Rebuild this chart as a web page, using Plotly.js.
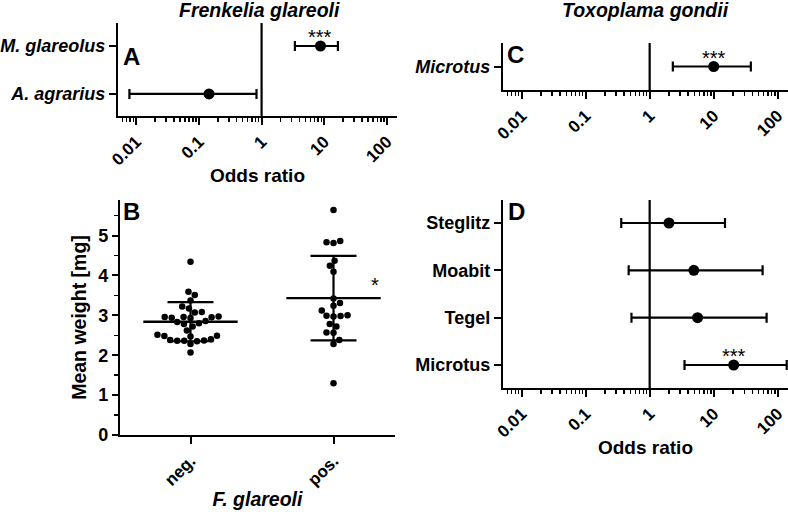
<!DOCTYPE html>
<html>
<head>
<meta charset="utf-8">
<script src="https://cdn.plot.ly/plotly-3.0.1.min.js"></script>
<style>html,body{margin:0;padding:0;background:#fff}#chart{width:788px;height:512px}</style>
</head>
<body>
<div id="chart"></div>
<script>
// ---------- Data ----------
// Panel A: Frenkelia glareoli odds ratios (index 0 = bottom row)
const aCategories = ['A. agrarius', 'M. glareolus'];
const aOR   = [0.145, 8.7];
const aLow  = [0.0078, 3.4];
const aHigh = [0.83, 16.5];
const aStars = ['', '***'];

// Panel C: Toxoplama gondii odds ratio
const cCategories = ['Microtus'];
const cOR   = [10.0];
const cLow  = [2.3];
const cHigh = [38];
const cStars = ['***'];

// Panel D: Toxoplama gondii odds ratios by site (index 0 = bottom row)
const dCategories = ['Microtus', 'Tegel', 'Moabit', 'Steglitz'];
const dOR   = [20.5, 5.6, 4.9, 2.0];
const dLow  = [3.5, 0.52, 0.47, 0.36];
const dHigh = [138, 67, 58, 15];
const dStars = ['***', '', '', ''];

// Panel B: mean weight [mg] by F. glareoli status
const bGroups = ['neg.', 'pos.'];
const bNeg = [4.34, 3.59, 3.51, 3.37, 3.22, 3.17, 3.08, 3.07, 2.97, 2.96, 2.96, 2.95, 2.94, 2.93,
              2.86, 2.83, 2.80, 2.78, 2.72, 2.62, 2.51, 2.49, 2.48, 2.47, 2.40, 2.38, 2.37, 2.36,
              2.36, 2.35, 2.28, 2.07];
const bPos = [5.64, 4.86, 4.83, 4.81, 4.37, 4.24, 4.09, 3.42, 3.31, 3.24, 3.12, 3.00, 2.99, 2.98,
              2.97, 2.78, 2.72, 2.57, 2.56, 2.38, 2.28, 1.30];
const bMean = [2.84, 3.43];
const bSD   = [0.49, 1.06];
const bStar = ['', '*'];

const oddsTickVals = [0.01, 0.1, 1, 10, 100];
const oddsTickText = ['0.01', '0.1', '1', '10', '100'];
const refOR = 1;

// ---------- Helpers ----------
const W = 788, H = 512;
const FONT = 'Liberation Sans, Arial, sans-serif';
const px = v => v / W;
const py = v => 1 - v / H;
const idx = arr => arr.map((_, i) => i);

const minorVals = [];
for (let e = -3; e <= 2; e++) for (let d = 2; d <= 9; d++) minorVals.push(d * Math.pow(10, e));

function swarm(values, pxPerX, pxPerY, diam) {
  const order = idx(values).sort((a, b) => values[a] - values[b]);
  const placed = [];
  const offs = new Array(values.length).fill(0);
  let flip = 1;
  for (const i of order) {
    const y = values[i] * pxPerY;
    const iv = [];
    for (const p of placed) {
      const dy = Math.abs(p.y - y);
      if (dy < diam) { const dx = Math.sqrt(diam * diam - dy * dy); iv.push([p.x - dx, p.x + dx]); }
    }
    const cands = [0];
    iv.forEach(([a, b]) => { cands.push(a - 1e-6, b + 1e-6); });
    cands.sort((a, b) => (Math.abs(a) - Math.abs(b)) || (flip * (b - a)));
    let best = 0;
    for (const c of cands) { if (iv.every(([a, b]) => c <= a || c >= b)) { best = c; break; } }
    if (best !== 0) flip = -flip;
    placed.push({ x: best, y });
    offs[i] = best / pxPerX;
  }
  return offs;
}

function forestTrace(xa, ya, or, lo, hi) {
  return {
    type: 'scatter', mode: 'markers', xaxis: xa, yaxis: ya,
    x: or, y: idx(or),
    marker: { size: 11, color: 'black' },
    error_x: { type: 'data', symmetric: false,
      array: hi.map((h, i) => h - or[i]), arrayminus: lo.map((l, i) => or[i] - l),
      color: 'black', thickness: 2.2, width: 5 },
    hoverinfo: 'skip'
  };
}
function refLine(xa, ya, n) {
  return { type: 'scatter', mode: 'lines', xaxis: xa, yaxis: ya,
    x: [refOR, refOR], y: [-5, n + 5], line: { color: 'black', width: 2.2 }, hoverinfo: 'skip' };
}

// ---------- Traces ----------
const traces = [];
traces.push(refLine('x', 'y', aCategories.length));
traces.push(forestTrace('x', 'y', aOR, aLow, aHigh));
traces.push(refLine('x3', 'y3', cCategories.length));
traces.push(forestTrace('x3', 'y3', cOR, cLow, cHigh));
traces.push(refLine('x4', 'y4', dCategories.length));
traces.push(forestTrace('x4', 'y4', dOR, dLow, dHigh));

// Panel B dots (beeswarm offsets derived from the values)
const bPxX = 142, bPxY = 39.9;
[bNeg, bPos].forEach((vals, g) => {
  const off = swarm(vals, bPxX, bPxY, 7);
  traces.push({ type: 'scatter', mode: 'markers', xaxis: 'x2', yaxis: 'y2',
    x: vals.map((v, i) => g + off[i]), y: vals,
    marker: { size: 6.5, color: 'black' }, hoverinfo: 'skip', cliponaxis: false });
});
traces.push({ type: 'scatter', mode: 'markers', xaxis: 'x2', yaxis: 'y2',
  x: idx(bGroups), y: bMean,
  marker: { size: 1, color: 'rgba(0,0,0,0)' },
  error_y: { type: 'data', array: bSD, color: 'black', thickness: 2.2, width: 23 },
  error_x: { type: 'data', array: bGroups.map(() => 0.33), color: 'black', thickness: 2.4, width: 0 },
  hoverinfo: 'skip', cliponaxis: false });

// ---------- Layout ----------
const baseAxis = {
  showline: true, linecolor: 'black', linewidth: 2.2, mirror: false,
  ticks: 'outside', tickcolor: 'black', tickwidth: 2, ticklen: 7,
  showgrid: false, zeroline: false, fixedrange: true,
  tickfont: { family: FONT, size: 17, color: 'black', weight: 'bold' }
};
function logX(domain, yAnchor, title) {
  return Object.assign({}, baseAxis, {
    domain, anchor: yAnchor, type: 'log', range: [-2.29, 2.16],
    tickmode: 'array', tickvals: oddsTickVals, ticktext: oddsTickText, tickangle: -45,
    minor: { tickmode: 'array', tickvals: minorVals, ticks: 'outside', ticklen: 4,
             tickwidth: 1.5, tickcolor: 'black', showgrid: false },
    title: title ? { text: title, font: { family: FONT, size: 19, color: 'black', weight: 'bold' }, standoff: 0 } : { text: '' }
  });
}
function catY(domain, xAnchor, cats, range, italic) {
  return Object.assign({}, baseAxis, {
    domain, anchor: xAnchor, range,
    tickmode: 'array', tickvals: idx(cats), ticktext: cats,
    tickfont: { family: FONT, size: 18, color: 'black', weight: 'bold', style: italic ? 'italic' : 'normal' }
  });
}

const annFont = (size, extra) => Object.assign({ family: FONT, size, color: 'black' }, extra || {});
function paperText(text, x, y, size, extra, xanchor) {
  return { text, xref: 'paper', yref: 'paper', x: px(x), y: py(y), xanchor: xanchor || 'center',
    yanchor: 'middle', showarrow: false, font: annFont(size, extra) };
}
const annotations = [
  paperText('Frenkelia glareoli', 259, 10, 19.5, { weight: 'bold', style: 'italic' }),
  paperText('Toxoplama gondii', 645, 10, 19.5, { weight: 'bold', style: 'italic' }),
  paperText('A', 121, 56, 24, { weight: 'bold' }, 'left'),
  paperText('C', 505, 54, 24, { weight: 'bold' }, 'left'),
  paperText('B', 121, 211, 24, { weight: 'bold' }, 'left'),
  paperText('D', 506, 211, 24, { weight: 'bold' }, 'left')
];
function starAnns(xa, ya, or, stars) {
  stars.forEach((s, i) => {
    if (!s) return;
    annotations.push({ text: s, xref: xa, yref: ya, x: Math.log10(or[i]), y: i, yshift: 9,
      yanchor: 'middle', showarrow: false, font: annFont(20) });
  });
}
starAnns('x', 'y', aOR, aStars);
starAnns('x3', 'y3', cOR, cStars);
starAnns('x4', 'y4', dOR, dStars);
bStar.forEach((s, g) => {
  if (!s) return;
  annotations.push({ text: s, xref: 'x2', yref: 'y2', x: g + 0.29, y: bMean[g] + 0.32,
    yanchor: 'middle', showarrow: false, font: annFont(20) });
});

const layout = {
  width: W, height: H,
  margin: { l: 0, r: 0, t: 0, b: 0 },
  paper_bgcolor: 'white', plot_bgcolor: 'rgba(0,0,0,0)',
  showlegend: false,
  font: { family: FONT, color: 'black' },
  xaxis: logX([px(118), px(397)], 'y', 'Odds ratio'),
  yaxis: catY([py(116), py(23)], 'x', aCategories, [-0.46, 1.48], true),
  xaxis3: logX([px(503), 1], 'y3', ''),
  yaxis3: catY([py(90), py(43)], 'x3', cCategories, [-0.5, 0.5], true),
  xaxis4: logX([px(503), 1], 'y4', 'Odds ratio'),
  yaxis4: catY([py(388), py(200)], 'x4', dCategories, [-0.486, 3.486], false),
  xaxis2: Object.assign({}, baseAxis, {
    domain: [px(120), px(395)], anchor: 'y2', range: [-0.493, 1.43],
    tickmode: 'array', tickvals: idx(bGroups), ticktext: bGroups, tickangle: -45,
    tickfont: { family: FONT, size: 17, color: 'black', weight: 'bold' },
    title: { text: 'F. glareoli', font: { family: FONT, size: 19.5, color: 'black', weight: 'bold', style: 'italic' }, standoff: 4 }
  }),
  yaxis2: Object.assign({}, baseAxis, {
    domain: [py(435), py(200)], anchor: 'x2', range: [0, 5.89],
    tickmode: 'array', tickvals: [0, 1, 2, 3, 4, 5], ticklen: 6,
    minor: { tickmode: 'array', tickvals: [0.5, 1.5, 2.5, 3.5, 4.5, 5.5], ticks: 'outside', ticklen: 4, tickwidth: 1.5, tickcolor: 'black', showgrid: false },
    tickfont: { family: FONT, size: 18, color: 'black', weight: 'bold' },
    title: { text: 'Mean weight [mg]', font: { family: FONT, size: 19.5, color: 'black', weight: 'bold' }, standoff: 6 }
  }),
  annotations
};

Plotly.newPlot('chart', traces, layout, { staticPlot: true, displayModeBar: false });
</script>
</body>
</html>
